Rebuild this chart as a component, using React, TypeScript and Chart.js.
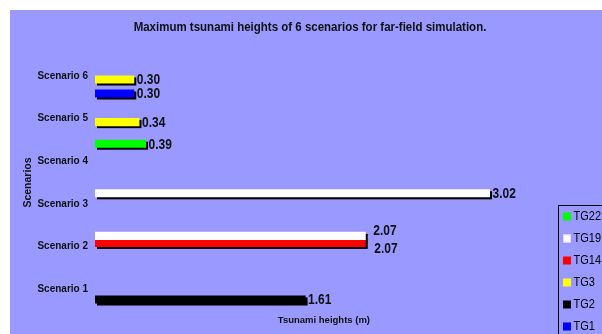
import React, { useEffect, useRef } from "react";
import { Chart, registerables } from "chart.js";

Chart.register(...registerables);

// ---- data ----
const categories = ["Scenario 6", "Scenario 5", "Scenario 4", "Scenario 3", "Scenario 2", "Scenario 1"];
const seriesNames = ["TG22", "TG19", "TG14", "TG3", "TG2", "TG1"];
const tg22 = [null, null, 0.39, null, null, null];
const tg19 = [null, null, null, 3.02, 2.07, null];
const tg14 = [null, null, null, null, 2.07, null];
const tg3 = [0.30, 0.34, null, null, null, null];
const tg2 = [null, null, null, null, null, 1.61];
const tg1 = [0.30, null, null, null, null, null];
const seriesValues = [tg22, tg19, tg14, tg3, tg2, tg1];
const seriesColors = ["#00FF00", "#FFFFFF", "#FF0000", "#FFFF00", "#000000", "#0000FF"];
const titleText = "Maximum tsunami heights of 6 scenarios for far-field simulation.";
const xTitle = "Tsunami heights (m)";
const yTitle = "Scenarios";

const FONT = "Arial, 'Liberation Sans', sans-serif";
const TEXT = "#111111";
const PANEL = "#9999FF";

function stretchedText(ctx: any, text: string, x: number, y: number, sy: number) {
  ctx.save();
  ctx.translate(x, y);
  ctx.scale(1, sy);
  ctx.fillText(text, 0, 0);
  ctx.restore();
}

const backdropPlugin = {
  id: "backdrop",
  beforeDraw(chart: any) {
    const { ctx, width, height } = chart;
    ctx.save();
    ctx.fillStyle = "#FFFFFF";
    ctx.fillRect(0, 0, width, height);
    ctx.fillStyle = PANEL;
    ctx.fillRect(10, 10, width - 10, height - 10);
    ctx.fillStyle = TEXT;
    ctx.font = `bold 11.5px ${FONT}`;
    ctx.textAlign = "center";
    ctx.textBaseline = "middle";
    stretchedText(ctx, titleText, 310, 28, 1.1);
    ctx.restore();
  },
};

const shadowPlugin = {
  id: "barShadow",
  beforeDatasetsDraw(chart: any) {
    const { ctx } = chart;
    ctx.save();
    ctx.fillStyle = "#000000";
    chart.data.datasets.forEach((ds: any, i: number) => {
      const meta = chart.getDatasetMeta(i);
      meta.data.forEach((el: any, j: number) => {
        if (ds.data[j] == null) return;
        const { x, y, base, height } = el.getProps(["x", "y", "base", "height"], true);
        ctx.fillRect(base + 2, y - height / 2 + 2, x - base, height);
      });
    });
    ctx.restore();
  },
};

const labelPlugin = {
  id: "valueLabels",
  afterDatasetsDraw(chart: any) {
    const { ctx } = chart;
    const perCat: any[][] = categories.map(() => []);
    chart.data.datasets.forEach((ds: any, i: number) => {
      const meta = chart.getDatasetMeta(i);
      meta.data.forEach((el: any, j: number) => {
        const v = ds.data[j];
        if (v == null) return;
        const { x, y } = el.getProps(["x", "y"], true);
        perCat[j].push({ x: x + 2.5, y: y + 1, text: v.toFixed(2) });
      });
    });
    perCat.forEach((items) => {
      items.sort((a, b) => a.y - b.y);
      for (let k = 1; k < items.length; k++) {
        const a = items[k - 1];
        const b = items[k];
        if (b.y - a.y < 10) {
          const mid = (a.y + b.y) / 2;
          a.y = mid - 9;
          b.y = mid + 9;
          a.x += 5;
          b.x += 6;
        }
      }
    });
    ctx.save();
    ctx.fillStyle = TEXT;
    ctx.font = `bold 12px ${FONT}`;
    ctx.textAlign = "left";
    ctx.textBaseline = "middle";
    perCat.forEach((items) => items.forEach((it) => stretchedText(ctx, it.text, it.x, it.y, 1.15)));
    ctx.restore();
  },
  afterDraw(chart: any) {
    const { ctx } = chart;
    ctx.save();
    ctx.strokeStyle = "#000000";
    ctx.lineWidth = 1;
    ctx.strokeRect(558.5, 205.5, 100, 200);
    ctx.font = `11px ${FONT}`;
    ctx.textAlign = "left";
    ctx.textBaseline = "middle";
    chart.data.datasets.forEach((ds: any, i: number) => {
      const y = 216.5 + i * 22;
      ctx.fillStyle = ds.backgroundColor;
      ctx.fillRect(563, y - 4, 8, 8);
      if (ds.backgroundColor === "#FFFFFF") {
        ctx.strokeStyle = "#DDDDEE";
        ctx.strokeRect(563.5, y - 3.5, 7, 7);
      }
      ctx.fillStyle = "#000000";
      stretchedText(ctx, ds.label, 573.5, y + 0.5, 1.15);
    });
    ctx.restore();
  },
};

export default function App() {
  const ref = useRef<HTMLCanvasElement | null>(null);
  useEffect(() => {
    if (!ref.current) return;
    const chart = new Chart(ref.current, {
      type: "bar",
      data: {
        labels: categories,
        datasets: seriesNames.map((name, i) => ({
          label: name,
          data: seriesValues[i],
          backgroundColor: seriesColors[i],
          borderWidth: 0,
          categoryPercentage: 0.986,
          barPercentage: 1.15,
        })),
      },
      options: {
        indexAxis: "y",
        responsive: false,
        animation: false,
        devicePixelRatio: 1,
        layout: { padding: { left: 10, top: 54.7, right: 49.2, bottom: 0 } },
        plugins: {
          legend: { display: false },
          title: { display: false },
          tooltip: { enabled: false },
        },
        scales: {
          x: {
            type: "linear",
            min: 0,
            max: 3.5,
            position: "bottom",
            grid: { display: false, drawTicks: false },
            border: { display: false },
            ticks: { display: false },
            title: {
              display: true,
              text: xTitle,
              color: TEXT,
              font: { family: FONT, size: 9.5, weight: "bold" },
              padding: { top: 0, bottom: 8.3 },
            },
            afterFit(scale: any) {
              scale.height = 334 - 310.3;
            },
          },
          y: {
            type: "category",
            position: "left",
            grid: { display: false, drawTicks: false },
            border: { display: false },
            ticks: {
              color: TEXT,
              padding: 7,
              font: { family: FONT, size: 10, weight: "bold" },
            },
            title: {
              display: true,
              text: yTitle,
              color: TEXT,
              font: { family: FONT, size: 10.5, weight: "bold" },
              padding: { top: 11.7, bottom: 0 },
            },
            afterFit(scale: any) {
              scale.width = 85;
            },
          },
        },
      },
      plugins: [backdropPlugin, shadowPlugin, labelPlugin],
    } as any);
    return () => chart.destroy();
  }, []);
  return (
    <div style={{ position: "fixed", left: 0, top: 0, width: 602, height: 334 }}>
      <canvas ref={ref} width={602} height={334} style={{ display: "block" }} />
    </div>
  );
}
